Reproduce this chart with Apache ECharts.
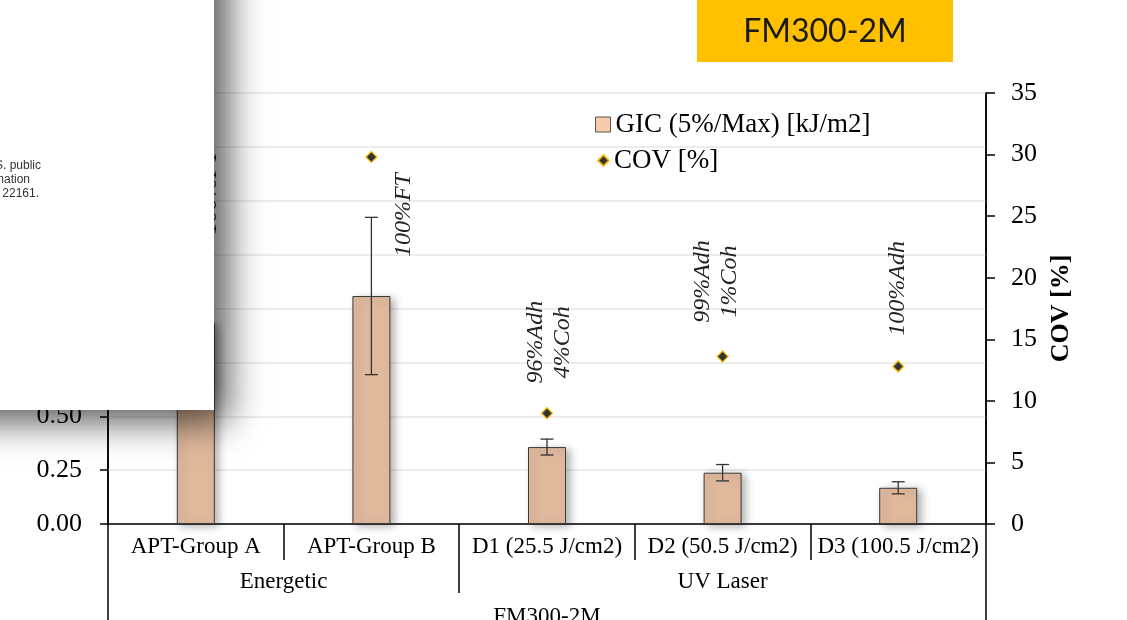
<!DOCTYPE html>
<html>
<head>
<meta charset="utf-8">
<script src="https://cdn.jsdelivr.net/npm/echarts@6/dist/echarts.min.js"></script>
<style>
  html, body { margin: 0; padding: 0; background: #fff; }
  #chart { width: 1127px; height: 620px; }
</style>
</head>
<body>
<div id="chart"></div>
<script>
// values
const categories = ['APT-Group A', 'APT-Group B', 'D1 (25.5 J/cm2)', 'D2 (50.5 J/cm2)', 'D3 (100.5 J/cm2)']
const groupNames = ['Energetic', 'UV Laser']
const groupSizes = [2, 3]
const gic = [0.934, 1.058, 0.357, 0.238, 0.168]
const gicErr = [0.2, 0.365, 0.037, 0.038, 0.028]
const cov = [22, 29.8, 9.0, 13.6, 12.8]
const failureModes = ['100%FT', '100%FT', '96%Adh\n4%Coh', '99%Adh\n1%Coh', '100%Adh']

// pixel shift of each failure-mode label from its COV marker
const labelShift = [[14, -61], [32, 58], [2, -71], [-6, -75], [-1, -78]]

const serif = 'Liberation Serif'

// group centres and borders on a 0..n scale
let groupCenters = []
let groupBorders = []
let acc = 0
groupSizes.forEach((s, i) => {
  groupCenters.push(acc + s / 2)
  acc += s
  if (i < groupSizes.length - 1) groupBorders.push(acc)
})

const chart = echarts.init(document.getElementById('chart'))

const docFont = '12px "Liberation Sans"'

chart.setOption({
  animation: false,
  backgroundColor: '#fff',
  grid: {
    left: 108,
    right: 141,
    top: 93,
    bottom: 96,
    containLabel: false,
    outerBoundsMode: 'none',
    show: true,
    borderColor: '#000',
    borderWidth: 1.5,
    backgroundColor: 'transparent'
  },
  legend: [
    {
      left: 590,
      top: 106,
      itemWidth: 15,
      itemHeight: 15,
      data: [{ name: 'GIC (5%/Max) [kJ/m2]', icon: 'rect', itemStyle: { color: '#F7CBAC', borderColor: '#555', borderWidth: 1 } }],
      textStyle: { fontFamily: serif, fontSize: 27, color: '#000' }
    },
    {
      left: 592,
      top: 142,
      itemWidth: 11,
      itemHeight: 11,
      data: [{ name: 'COV [%]', icon: 'diamond' }],
      textStyle: { fontFamily: serif, fontSize: 27, color: '#000' }
    }
  ],
  xAxis: [
    {
      type: 'category',
      data: categories,
      position: 'bottom',
      axisLine: { onZero: false, lineStyle: { color: '#000', width: 1.5 } },
      axisTick: { show: true, length: 36, interval: 0, lineStyle: { color: '#000', width: 1.5 } },
      axisLabel: { interval: 0, margin: 11, fontFamily: serif, fontSize: 23, color: '#000' }
    },
    {
      type: 'value',
      min: 0,
      max: categories.length,
      position: 'bottom',
      axisLine: { show: false, onZero: false },
      splitLine: { show: false },
      axisTick: { show: true, customValues: groupBorders, length: 69, lineStyle: { color: '#000', width: 1.5 } },
      axisLabel: {
        customValues: groupCenters,
        margin: 46,
        fontFamily: serif,
        fontSize: 23,
        color: '#000',
        formatter: (v) => groupNames[groupCenters.indexOf(v)] || ''
      }
    },
    {
      type: 'value',
      min: 0,
      max: categories.length,
      position: 'bottom',
      axisLine: { show: false, onZero: false },
      splitLine: { show: false },
      axisTick: { show: true, customValues: [0, categories.length], length: 110, lineStyle: { color: '#000', width: 1.5 } },
      axisLabel: { show: false },
      name: 'FM300-2M',
      nameLocation: 'middle',
      nameGap: 81,
      nameTextStyle: { fontFamily: serif, fontSize: 23, color: '#000' }
    }
  ],
  yAxis: [
    {
      type: 'value',
      position: 'left',
      min: 0,
      max: 2,
      interval: 0.25,
      axisLine: { show: true, onZero: false, lineStyle: { color: '#000', width: 1.5 } },
      axisTick: { show: true, length: 8, lineStyle: { color: '#000', width: 1.5 } },
      axisLabel: { margin: 26, fontFamily: serif, fontSize: 26, color: '#000', formatter: (v) => v.toFixed(2) },
      splitLine: { lineStyle: { color: '#ececec', width: 2 } }
    },
    {
      type: 'value',
      position: 'right',
      min: 0,
      max: 35,
      interval: 5,
      axisLine: { show: true, onZero: false, lineStyle: { color: '#000', width: 1.5 } },
      axisTick: { show: true, length: 9, lineStyle: { color: '#000', width: 1.5 } },
      axisLabel: { margin: 25, fontFamily: serif, fontSize: 26, color: '#000' },
      splitLine: { show: false },
      name: 'COV [%]',
      nameLocation: 'middle',
      nameRotate: 90,
      nameGap: 47,
      nameTextStyle: { fontFamily: serif, fontSize: 26, fontWeight: 'bold', color: '#000' }
    }
  ],
  series: [
    {
      name: 'GIC (5%/Max) [kJ/m2]',
      type: 'bar',
      data: gic,
      barWidth: 38,
      itemStyle: {
        color: '#E0B99D',
        borderColor: '#3a3a3a',
        borderWidth: 1,
        shadowBlur: 8,
        shadowOffsetX: 4,
        shadowOffsetY: 2,
        shadowColor: 'rgba(0,0,0,0.3)'
      }
    },
    {
      name: 'errors',
      type: 'custom',
      data: gic.map((v, i) => [i, v - gicErr[i], v + gicErr[i]]),
      encode: { x: 0, y: [1, 2] },
      z: 5,
      renderItem(params, api) {
        const top = api.coord([api.value(0), api.value(2)])
        const bot = api.coord([api.value(0), api.value(1)])
        const w = 6.5
        const st = { stroke: '#333', lineWidth: 1.3 }
        return {
          type: 'group',
          children: [
            { type: 'line', shape: { x1: top[0], y1: top[1], x2: bot[0], y2: bot[1] }, style: st },
            { type: 'line', shape: { x1: top[0] - w, y1: top[1], x2: top[0] + w, y2: top[1] }, style: st },
            { type: 'line', shape: { x1: bot[0] - w, y1: bot[1], x2: bot[0] + w, y2: bot[1] }, style: st }
          ]
        }
      }
    },
    {
      name: 'COV [%]',
      type: 'scatter',
      yAxisIndex: 1,
      data: cov,
      symbol: 'diamond',
      symbolSize: 11,
      itemStyle: { color: '#000', borderColor: '#FFC000', borderWidth: 1.5 },
      z: 6
    },
    {
      name: 'modes',
      type: 'custom',
      yAxisIndex: 1,
      data: cov.map((v, i) => [i, v]),
      encode: { x: 0, y: 1 },
      z: 7,
      renderItem(params, api) {
        const i = params.dataIndex
        const p = api.coord([api.value(0), api.value(1)])
        return {
          type: 'text',
          x: p[0] + labelShift[i][0],
          y: p[1] + labelShift[i][1],
          rotation: Math.PI / 2,
          style: {
            text: failureModes[i],
            fontFamily: serif,
            fontStyle: 'italic',
            fontSize: 24,
            lineHeight: 27,
            fill: '#222',
            align: 'center',
            verticalAlign: 'middle'
          }
        }
      }
    }
  ],
  graphic: [
    // pasted document page lying over the top-left corner
    {
      type: 'rect',
      zlevel: 1,
      z: 100,
      shape: { x: -80, y: -80, width: 294, height: 490 },
      style: {
        fill: '#fff',
        shadowBlur: 34,
        shadowOffsetX: 14,
        shadowOffsetY: 12,
        shadowColor: 'rgba(0,0,0,0.65)'
      }
    },
    { type: 'text', zlevel: 1, z: 101, x: 41, y: 166, style: { text: 'available to the U.S. public', font: docFont, fill: '#333', align: 'right', verticalAlign: 'middle' } },
    { type: 'text', zlevel: 1, z: 101, x: 30, y: 180, style: { text: 'National Technical Information', font: docFont, fill: '#333', align: 'right', verticalAlign: 'middle' } },
    { type: 'text', zlevel: 1, z: 101, x: 39, y: 193.5, style: { text: 'Springfield, VA 22161.', font: docFont, fill: '#333', align: 'right', verticalAlign: 'middle' } },
    // title box
    { type: 'rect', zlevel: 1, z: 100, shape: { x: 697, y: 0, width: 256, height: 62 }, style: { fill: '#FFC000' } },
    { type: 'text', zlevel: 1, z: 101, x: 825, y: 32, style: { text: 'FM300-2M', font: '32px Lato', fill: '#1a1a1a', align: 'center', verticalAlign: 'middle' } }
  ]
})
</script>
</body>
</html>
